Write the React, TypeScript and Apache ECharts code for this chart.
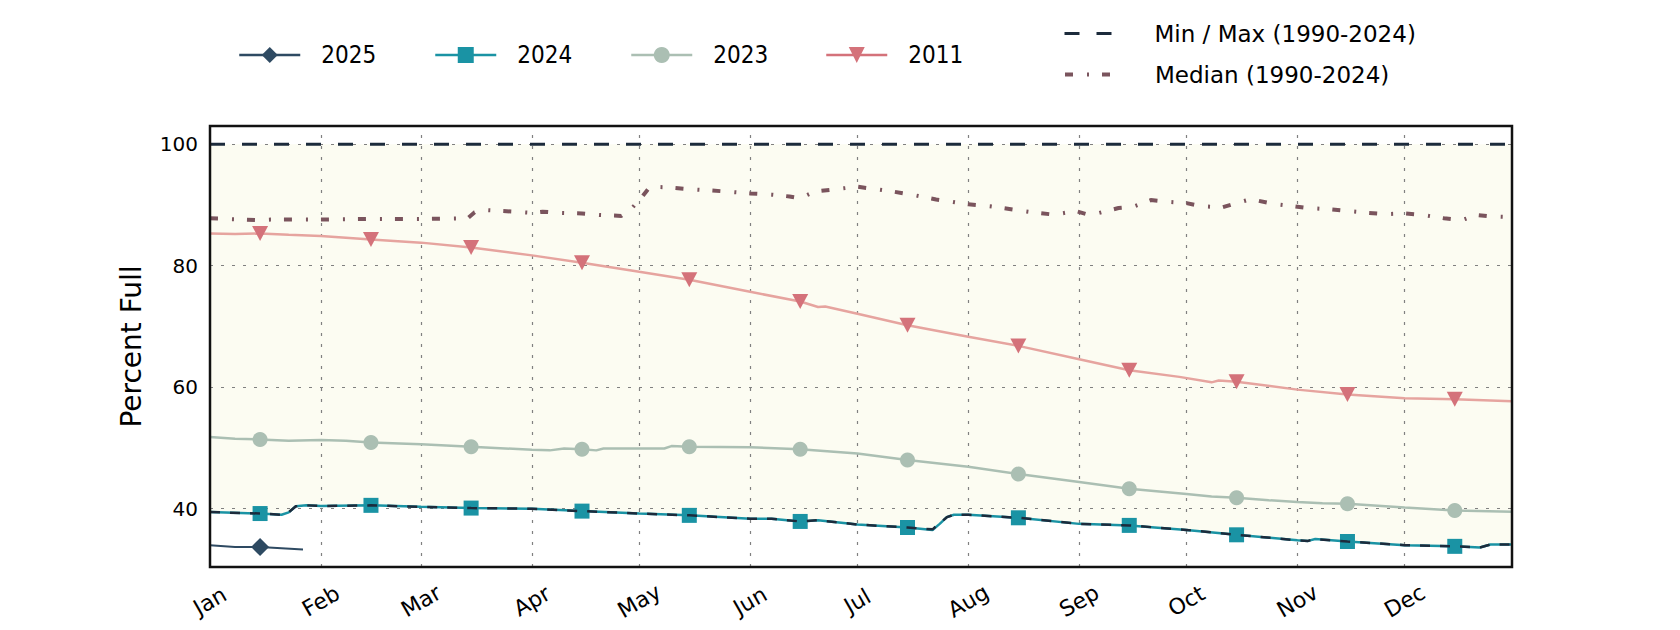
import React, { useEffect, useRef } from 'react';
import * as echarts from 'echarts';

// ---- axis / tick definitions ----
const monthNames = ['Jan', 'Feb', 'Mar', 'Apr', 'May', 'Jun', 'Jul', 'Aug', 'Sep', 'Oct', 'Nov', 'Dec'];
const monthStartDays = [0, 31, 59, 90, 120, 151, 181, 212, 243, 273, 304, 334];
const markerDays = [14, 45, 73, 104, 134, 165, 195, 226, 257, 287, 318, 348];
const yTickValues = [40, 60, 80, 100];

// ---- series values (day of year, percent full) ----
const days2025 = [0, 7, 14, 20, 26];
const pct2025 = [34.0, 33.7, 33.7, 33.5, 33.3];

const days2024 = [0, 14, 20, 22, 24, 27, 31, 45, 59, 73, 90, 104, 120, 134, 151, 157, 165, 170, 181, 195, 202, 204, 206, 208, 212, 226, 243, 257, 273, 287, 304, 307, 309, 318, 334, 348, 355, 358, 364];
const pct2024 = [39.45, 39.2, 39.0, 39.4, 40.4, 40.55, 40.45, 40.55, 40.3, 40.1, 40.0, 39.6, 39.2, 38.9, 38.35, 38.35, 37.9, 38.1, 37.4, 36.9, 36.5, 37.5, 38.6, 39.0, 39.0, 38.5, 37.5, 37.25, 36.5, 35.7, 34.8, 34.7, 35.0, 34.6, 34.0, 33.8, 33.6, 34.1, 34.1];

const days2023 = [0, 7, 14, 22, 31, 38, 45, 59, 73, 90, 95, 99, 104, 108, 110, 120, 127, 129, 134, 151, 165, 181, 195, 212, 226, 243, 257, 273, 280, 287, 296, 304, 311, 318, 334, 348, 364];
const pct2023 = [51.8, 51.5, 51.4, 51.2, 51.3, 51.2, 50.9, 50.6, 50.2, 49.7, 49.6, 49.9, 49.8, 49.6, 49.9, 49.9, 49.9, 50.3, 50.2, 50.1, 49.8, 49.1, 48.0, 46.9, 45.7, 44.4, 43.3, 42.4, 42.0, 41.8, 41.4, 41.1, 40.9, 40.8, 40.2, 39.7, 39.5];

const days2011 = [0, 7, 14, 22, 31, 45, 59, 73, 90, 104, 120, 134, 151, 165, 170, 172, 181, 195, 212, 226, 243, 257, 271, 280, 282, 287, 304, 318, 334, 348, 364];
const pct2011 = [85.3, 85.2, 85.3, 85.1, 84.9, 84.3, 83.8, 83.0, 81.7, 80.5, 79.0, 77.7, 75.7, 74.1, 73.2, 73.3, 72.1, 70.2, 68.3, 66.8, 64.6, 62.8, 61.7, 60.8, 61.1, 60.9, 59.6, 58.8, 58.2, 58.0, 57.7];

const daysMedian = [0, 14, 17, 31, 45, 59, 72, 74, 76, 85, 90, 93, 98, 104, 109, 115, 118, 121, 123, 128, 134, 140, 151, 157, 162, 165, 169, 175, 181, 186, 191, 197, 203, 212, 218, 225, 230, 236, 242, 245, 248, 254, 258, 263, 268, 273, 277, 283, 287, 290, 293, 297, 303, 307, 313, 318, 324, 329, 334, 339, 345, 350, 354, 358, 364];
const pctMedian = [87.8, 87.5, 87.6, 87.6, 87.7, 87.7, 87.8, 88.8, 89.2, 88.9, 88.7, 88.9, 88.7, 88.6, 88.35, 88.2, 89.5, 91.5, 93.0, 92.9, 92.6, 92.4, 91.9, 91.7, 91.4, 91.1, 92.2, 92.6, 93.0, 92.6, 92.2, 91.6, 90.9, 90.1, 89.8, 89.2, 88.8, 88.4, 89.0, 88.5, 88.6, 89.5, 89.7, 90.8, 90.5, 90.3, 89.8, 89.6, 90.3, 90.8, 90.7, 90.2, 89.8, 89.5, 89.3, 89.0, 88.7, 88.5, 88.6, 88.35, 87.8, 87.5, 88.35, 88.1, 88.0];

const daysMin = [0, 14, 20, 22, 24, 27, 31, 45, 59, 73, 90, 104, 120, 134, 151, 157, 165, 170, 181, 195, 202, 204, 206, 208, 212, 226, 243, 257, 273, 287, 304, 307, 309, 318, 334, 348, 355, 358, 364];
const pctMin = [39.45, 39.2, 39.0, 39.4, 40.4, 40.55, 40.45, 40.55, 40.3, 40.1, 40.0, 39.6, 39.2, 38.9, 38.35, 38.35, 37.9, 38.1, 37.4, 36.9, 36.6, 37.6, 38.6, 39.0, 39.0, 38.5, 37.5, 37.25, 36.5, 35.7, 34.8, 34.7, 35.0, 34.6, 34.0, 33.8, 33.6, 34.1, 34.1];

const daysMax = [0, 364];
const pctMax = [100, 100];

const MINMAX = 'Min / Max (1990-2024)';
const MEDIAN = 'Median (1990-2024)';

const pairs = (days: number[], vals: number[]) => days.map((d, i) => [d, vals[i]]);
const marked = (days: number[], vals: number[]) =>
  days.map((d, i) => (markerDays.includes(d) ? { value: [d, vals[i]] } : { value: [d, vals[i]], symbol: 'none' }));

export default function App() {
  const ref = useRef<HTMLDivElement>(null);
  useEffect(() => {
    if (!ref.current) return;
    const chart = echarts.init(ref.current, null, { renderer: 'svg' });
    const sans = 'DejaVu Sans';
    const yearFont = "'Liberation Sans Narrow', 'DejaVu Sans Condensed', 'Liberation Serif'";
    const yearLegend = (name: string, left: number, extra: any = {}) => ({
      data: [{ name, ...extra }],
      left,
      top: 43,
      padding: 0,
      itemWidth: 61,
      itemHeight: 20,
      lineStyle: { width: 2.5 },
      textStyle: { fontFamily: yearFont, fontSize: 24, color: '#000', lineHeight: 20, padding: [0, 0, 0, 16] },
    });
    const option: any = {
      animation: false,
      backgroundColor: '#fff',
      textStyle: { fontFamily: sans },
      grid: { left: 210, right: 168, top: 126, bottom: 63, outerBoundsMode: 'none' },
      xAxis: {
        type: 'value',
        min: 0,
        max: 364,
        axisLine: { show: false },
        axisTick: { show: false },
        splitLine: { show: false },
        axisLabel: {
          customValues: monthStartDays,
          formatter: (v: number) => monthNames[monthStartDays.indexOf(v)] ?? '',
          rotate: 30,
          align: 'center',
          verticalAlign: 'middle',
          margin: 34,
          fontSize: 22,
          color: '#000',
          fontFamily: sans,
        },
      },
      yAxis: {
        type: 'value',
        min: 30.4,
        max: 103,
        name: 'Percent Full',
        nameLocation: 'middle',
        nameGap: 65,
        nameTextStyle: { fontSize: 28, color: '#000', fontFamily: sans },
        axisLine: { show: false },
        axisTick: { show: false },
        splitLine: { show: false },
        axisLabel: { customValues: yTickValues, margin: 12, fontSize: 20, color: '#000', fontFamily: sans },
      },
      legend: [
        yearLegend('2025', 238),
        yearLegend('2024', 434),
        yearLegend('2023', 630),
        yearLegend('2011', 825, { lineStyle: { color: '#d4727a', width: 2.5 } }),
        {
          data: [{ name: MINMAX, itemStyle: { opacity: 0 }, lineStyle: { width: 3 } }],
          left: 1063,
          top: 22,
          padding: 0,
          itemWidth: 47,
          itemHeight: 20,
          textStyle: { fontFamily: sans, fontSize: 23, color: '#000', lineHeight: 20, padding: [0, 0, 0, 38] },
        },
        {
          data: [{ name: MEDIAN, itemStyle: { opacity: 0 }, lineStyle: { width: 4 } }],
          left: 1063,
          top: 63,
          padding: 0,
          itemWidth: 45,
          itemHeight: 20,
          textStyle: { fontFamily: sans, fontSize: 23, color: '#000', lineHeight: 20, padding: [0, 0, 0, 40] },
        },
      ],
      graphic: [
        {
          type: 'rect',
          silent: true,
          z: 100,
          shape: { x: 210, y: 126, width: 1302, height: 441 },
          style: { fill: 'none', stroke: '#111', lineWidth: 2.5 },
        },
      ],
      series: [
        {
          name: '_maxFill',
          type: 'line',
          z: 1,
          silent: true,
          symbol: 'none',
          data: pairs(daysMax, pctMax),
          lineStyle: { width: 0 },
          areaStyle: { color: '#fcfcf2', origin: 'start', opacity: 1 },
          markLine: {
            silent: true,
            z: 3,
            symbol: ['none', 'none'],
            label: { show: false },
            lineStyle: { color: '#808080', type: [3, 8], width: 1.2 },
            data: [
              ...monthStartDays.slice(1).map((d) => ({ xAxis: d })),
              ...yTickValues.map((v) => ({ yAxis: v })),
            ],
          },
        },
        {
          name: '_minFill',
          type: 'line',
          z: 2,
          silent: true,
          symbol: 'none',
          data: pairs(daysMin, pctMin),
          lineStyle: { width: 0 },
          areaStyle: { color: '#ffffff', origin: 'start', opacity: 1 },
        },
        {
          name: MEDIAN,
          type: 'line',
          z: 6,
          symbol: 'none',
          data: pairs(daysMedian, pctMedian),
          lineStyle: { color: '#7a545d', width: 4, type: [8, 14, 2, 13] },
          itemStyle: { color: '#7a545d' },
        },
        {
          name: '2011',
          type: 'line',
          z: 7,
          symbol: 'triangle',
          symbolRotate: 180,
          symbolSize: [16, 15],
          showSymbol: true,
          showAllSymbol: true,
          data: marked(days2011, pct2011),
          lineStyle: { color: '#e6a49f', width: 2.5 },
          itemStyle: { color: '#d4727a' },
        },
        {
          name: '2023',
          type: 'line',
          z: 7,
          symbol: 'circle',
          symbolSize: 15,
          showSymbol: true,
          showAllSymbol: true,
          data: marked(days2023, pct2023),
          lineStyle: { color: '#abbfb3', width: 2.5 },
          itemStyle: { color: '#abbfb3' },
        },
        {
          name: '2024',
          type: 'line',
          z: 7,
          symbol: 'rect',
          symbolSize: 15,
          showSymbol: true,
          showAllSymbol: true,
          data: marked(days2024, pct2024),
          lineStyle: { color: '#1a93a4', width: 2.5 },
          itemStyle: { color: '#1a93a4' },
        },
        {
          name: MINMAX,
          type: 'line',
          z: 8,
          symbol: 'none',
          data: pairs(daysMax, pctMax),
          lineStyle: { color: '#1c2b3c', width: 3, type: [15, 17] },
          itemStyle: { color: '#1c2b3c' },
        },
        {
          name: MINMAX,
          type: 'line',
          z: 8,
          symbol: 'none',
          data: pairs(daysMin, pctMin),
          lineStyle: { color: '#1c2b3c', width: 2.5, type: [10, 10] },
          itemStyle: { color: '#1c2b3c' },
        },
        {
          name: '2025',
          type: 'line',
          z: 9,
          symbol: 'diamond',
          symbolSize: 18,
          showSymbol: true,
          showAllSymbol: true,
          data: marked(days2025, pct2025),
          lineStyle: { color: '#2e4a62', width: 2 },
          itemStyle: { color: '#2e4a62' },
        },
      ],
    };
    chart.setOption(option);
    return () => chart.dispose();
  }, []);
  return <div ref={ref} style={{ position: 'absolute', left: 0, top: 0, width: 1680, height: 630 }} />;
}
